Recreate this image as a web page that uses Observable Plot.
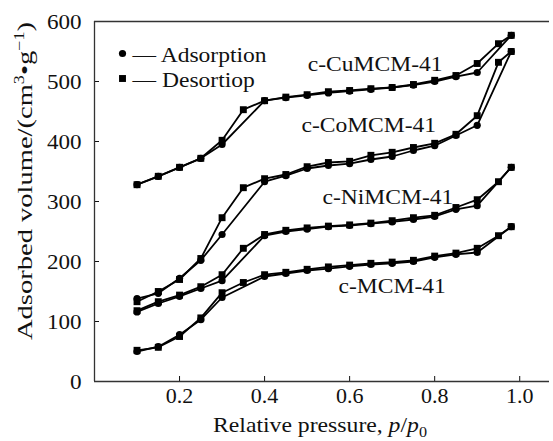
<!DOCTYPE html>
<html><head><meta charset="utf-8">
<script src="https://cdn.jsdelivr.net/npm/d3@7"></script>
<script src="https://cdn.jsdelivr.net/npm/@observablehq/plot@0.6"></script>
<style>body{margin:0;background:#fff}</style>
</head><body><div id="chart"></div>
<script>
const seriesNames = ["c-CuMCM-41", "c-CoMCM-41", "c-NiMCM-41", "c-MCM-41"];
const adsP = [0.1,0.15,0.2,0.25,0.3,0.4,0.45,0.5,0.55,0.6,0.65,0.7,0.75,0.8,0.85,0.9,0.98];
const desP = [0.98,0.95,0.9,0.85,0.8,0.75,0.7,0.65,0.6,0.55,0.5,0.45,0.4,0.35,0.3,0.25,0.2,0.15,0.1];
const cuAds = [328,342,357,372,395,468,473,477,481,484,487,490,494,500,508,515,577];
const cuDes = [577,563,530,510,502,495,490,488,485,483,478,474,468,453,402,372,357,342,328];
const coAds = [138,147,172,202,245,333,343,355,360,363,370,375,385,393,410,427,550];
const coDes = [550,532,443,412,397,390,382,377,367,365,358,345,338,323,273,205,170,150,133];
const niAds = [116,130,142,155,168,243,250,254,258,260,263,266,270,275,287,293,357];
const niDes = [357,333,303,290,277,273,268,264,261,259,256,252,245,222,178,158,144,133,118];
const mcmAds = [50,58,78,103,140,175,180,185,188,192,195,197,200,207,212,215,258];
const mcmDes = [258,243,222,214,209,202,199,197,194,191,187,182,178,165,148,106,75,57,52];
const labelP = [0.66, 0.645, 0.69, 0.70];
const labelV = [529, 427, 307, 160];
const legendItems = ["\u2014 Adsorption", "\u2014 Desortiop"];
const xTicks = [0.2, 0.4, 0.6, 0.8, 1.0];
const yTicks = [0, 100, 200, 300, 400, 500, 600];

const adsSets = [cuAds, coAds, niAds, mcmAds];
const desSets = [cuDes, coDes, niDes, mcmDes];
const ads = [], des = [];
seriesNames.forEach((s, i) => {
  adsP.forEach((p, j) => ads.push({s, p, v: adsSets[i][j]}));
  desP.forEach((p, j) => des.push({s, p, v: desSets[i][j]}));
});
const labels = seriesNames.map((s, i) => ({s, p: labelP[i], v: labelV[i]}));

const font = "'Liberation Serif', 'Times New Roman', serif";
const chart = Plot.plot({
  width: 553, height: 441,
  marginLeft: 94, marginRight: 4, marginTop: 21, marginBottom: 60,
  style: {fontFamily: font, fontSize: "22px", color: "#111", background: "#fff"},
  x: {domain: [0, 1.07], label: null},
  y: {domain: [0, 600], label: null},
  marks: [
    Plot.axisX({ticks: xTicks, tickFormat: d3.format(".1f"), tickSize: -5, tickPadding: 11, fontSize: 22, label: null}),
    Plot.axisY({ticks: yTicks, tickSize: -5, tickPadding: 18, fontSize: 22, label: null}),
    Plot.ruleY([0], {stroke: "#333", strokeWidth: 1.3}),
    Plot.ruleX([0], {stroke: "#333", strokeWidth: 1.3}),
    Plot.ruleY([600], {stroke: "#333", strokeWidth: 1.3}),
    Plot.line(ads, {x: "p", y: "v", z: "s", stroke: "#000", strokeWidth: 1.8}),
    Plot.line(des, {x: "p", y: "v", z: "s", stroke: "#000", strokeWidth: 1.8}),
    Plot.dot(ads, {x: "p", y: "v", r: 3.6, fill: "#000"}),
    Plot.dot(des, {x: "p", y: "v", r: 3.9, symbol: "square", fill: "#000"}),
    Plot.text(labels, {x: "p", y: "v", text: "s", fontSize: 22, fill: "#111", textAnchor: "middle", className: "stretch"}),
    Plot.dot([0], {frameAnchor: "top-left", dx: 28, dy: 32, r: 3.6, fill: "#000"}),
    Plot.dot([0], {frameAnchor: "top-left", dx: 28, dy: 57, r: 3.9, symbol: "square", fill: "#000"}),
    Plot.text([legendItems[0]], {frameAnchor: "top-left", dx: 38, dy: 33, text: d => d, textAnchor: "start", lineAnchor: "middle", fontSize: 22, fill: "#111", className: "stretch"}),
    Plot.text([legendItems[1]], {frameAnchor: "top-left", dx: 38, dy: 58, text: d => d, textAnchor: "start", lineAnchor: "middle", fontSize: 22, fill: "#111", className: "stretch"})
  ]
});
document.getElementById("chart").append(chart);
const svg = d3.select(chart);
// the reference's lettering is slightly wider than Liberation Serif
svg.selectAll(".stretch text").each(function() {
  const len = this.getComputedTextLength();
  this.setAttribute("textLength", (len * 1.07).toFixed(1));
  this.setAttribute("lengthAdjust", "spacingAndGlyphs");
});
svg.selectAll("g[aria-label='y-axis tick label'] text").each(function() {
  const len = this.getComputedTextLength();
  this.setAttribute("textLength", (len * 1.05).toFixed(1));
  this.setAttribute("lengthAdjust", "spacingAndGlyphs");
});
const xt = svg.append("text").attr("x", 320).attr("y", 432).attr("text-anchor", "middle")
  .attr("font-family", font).attr("font-size", 22).attr("fill", "#111")
  .attr("textLength", 214).attr("lengthAdjust", "spacingAndGlyphs");
xt.append("tspan").text("Relative pressure, ");
xt.append("tspan").attr("font-style", "italic").text("p");
xt.append("tspan").text("/");
xt.append("tspan").attr("font-style", "italic").text("p");
xt.append("tspan").attr("font-size", 15).attr("dy", 5).text("0");
const yt = svg.append("text").attr("transform", "translate(32,181) rotate(-90)").attr("text-anchor", "middle")
  .attr("font-family", font).attr("font-size", 22).attr("fill", "#111")
  .attr("textLength", 318).attr("lengthAdjust", "spacingAndGlyphs");
yt.append("tspan").text("Adsorbed volume/(cm");
yt.append("tspan").attr("font-size", 14).attr("dy", -8).text("3");
yt.append("tspan").attr("dy", 8).text("\u2022g");
yt.append("tspan").attr("font-size", 14).attr("dy", -8).text("\u22121");
yt.append("tspan").attr("dy", 8).text(")");
</script></body></html>
